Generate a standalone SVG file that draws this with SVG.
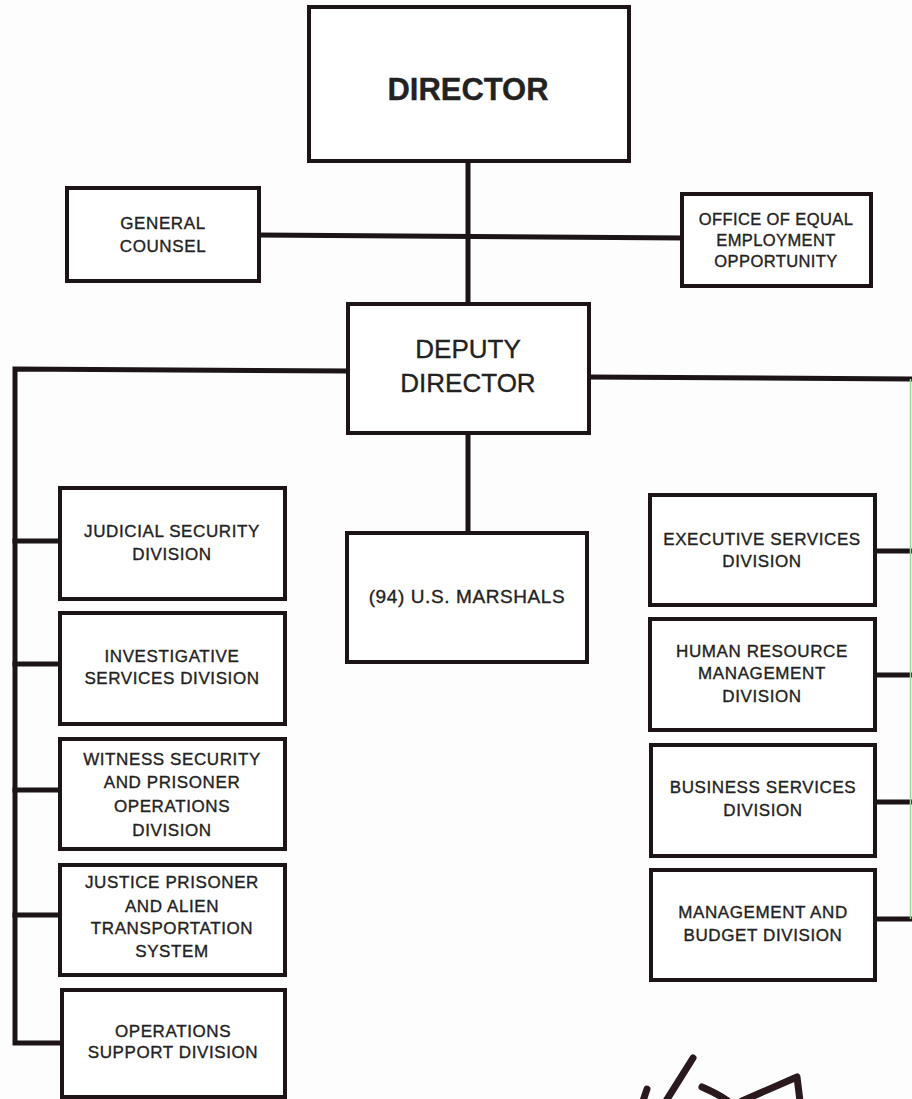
<svg xmlns="http://www.w3.org/2000/svg" width="912" height="1099" viewBox="0 0 912 1099">
<style>
.box{fill:#fff;stroke:#1c1416;stroke-width:4}
.ln{stroke:#1c1416;stroke-width:5;fill:none;stroke-linecap:square}
text{font-family:"Liberation Sans",Arial,sans-serif;fill:#222;text-anchor:middle;stroke:#222;stroke-width:0.35}
.s{font-size:17px;letter-spacing:0.6px}
.e{font-size:16.5px;letter-spacing:0.4px}
.m{font-size:26px}
.b{font-size:32px;font-weight:bold}
.mark{stroke:#2a1a1e;stroke-width:7;fill:none;stroke-linecap:round;stroke-linejoin:round}
</style>
<rect width="912" height="1099" fill="#fdfdfd"/>
<g id="connectors">
<path class="ln" d="M468 161 V303"/>
<path class="ln" d="M259 235 L682 238"/>
<path class="ln" d="M348 371 L15 369 V1043 H62"/>
<path class="ln" d="M15 541 H60 M15 664 H60 M15 790 H60 M15 915 H60"/>
<path class="ln" d="M588 377 L912 379"/>
<path class="ln" d="M468 433 V533"/>
<path class="ln" d="M875 551 H912 M875 675 H912 M875 802 H912 M875 919 H912"/>
<path d="M910.5 379 V919" stroke="#9ad89a" stroke-width="1.5"/>
</g>
<g id="director"><rect class="box" x="309" y="7" width="320" height="154"/><text class="b" x="468" y="100" textLength="161" lengthAdjust="spacingAndGlyphs">DIRECTOR</text></g>
<g id="general-counsel"><rect class="box" x="67" y="188" width="192" height="93"/><text class="s" x="163" y="229">GENERAL</text><text class="s" x="163" y="252">COUNSEL</text></g>
<g id="eeo"><rect class="box" x="682" y="194" width="189" height="92"/><text class="e" x="776" y="225">OFFICE OF EQUAL</text><text class="e" x="776" y="246">EMPLOYMENT</text><text class="e" x="776" y="267">OPPORTUNITY</text></g>
<g id="deputy-director"><rect class="box" x="348" y="304" width="241" height="129"/><text class="m" x="468" y="358">DEPUTY</text><text class="m" x="468" y="392">DIRECTOR</text></g>
<g id="us-marshals"><rect class="box" x="347" y="533" width="240" height="129"/><text x="467" y="603" font-size="19" letter-spacing="0.6">(94) U.S. MARSHALS</text></g>
<g id="judicial"><rect class="box" x="60" y="488" width="225" height="111"/><text class="s" x="172" y="537">JUDICIAL SECURITY</text><text class="s" x="172" y="560">DIVISION</text></g>
<g id="investigative"><rect class="box" x="60" y="613" width="225" height="111"/><text class="s" x="172" y="662">INVESTIGATIVE</text><text class="s" x="172" y="684">SERVICES DIVISION</text></g>
<g id="witness"><rect class="box" x="60" y="739" width="225" height="110"/><text class="s" x="172" y="765">WITNESS SECURITY</text><text class="s" x="172" y="788">AND PRISONER</text><text class="s" x="172" y="812">OPERATIONS</text><text class="s" x="172" y="836">DIVISION</text></g>
<g id="justice"><rect class="box" x="60" y="865" width="225" height="110"/><text class="s" x="172" y="888">JUSTICE PRISONER</text><text class="s" x="172" y="912">AND ALIEN</text><text class="s" x="172" y="934">TRANSPORTATION</text><text class="s" x="172" y="957">SYSTEM</text></g>
<g id="operations-support"><rect class="box" x="62" y="990" width="223" height="107"/><text class="s" x="173" y="1037">OPERATIONS</text><text class="s" x="173" y="1058">SUPPORT DIVISION</text></g>
<g id="executive"><rect class="box" x="650" y="495" width="225" height="110"/><text class="s" x="762" y="545">EXECUTIVE SERVICES</text><text class="s" x="762" y="567">DIVISION</text></g>
<g id="human-resource"><rect class="box" x="650" y="619" width="225" height="111"/><text class="s" x="762" y="657">HUMAN RESOURCE</text><text class="s" x="762" y="679">MANAGEMENT</text><text class="s" x="762" y="702">DIVISION</text></g>
<g id="business"><rect class="box" x="651" y="745" width="224" height="111"/><text class="s" x="763" y="793">BUSINESS SERVICES</text><text class="s" x="763" y="816">DIVISION</text></g>
<g id="management-budget"><rect class="box" x="651" y="870" width="224" height="110"/><text class="s" x="763" y="918">MANAGEMENT AND</text><text class="s" x="763" y="941">BUDGET DIVISION</text></g>
<g id="handwriting">
<path class="mark" d="M647 1089 L643 1101"/>
<path class="mark" d="M693 1058 L666 1101"/>
<path class="mark" d="M702 1087 Q718 1094 728 1101"/>
<path class="mark" d="M742 1101 Q772 1088 797 1077 L800 1101"/>
</g>
</svg>
